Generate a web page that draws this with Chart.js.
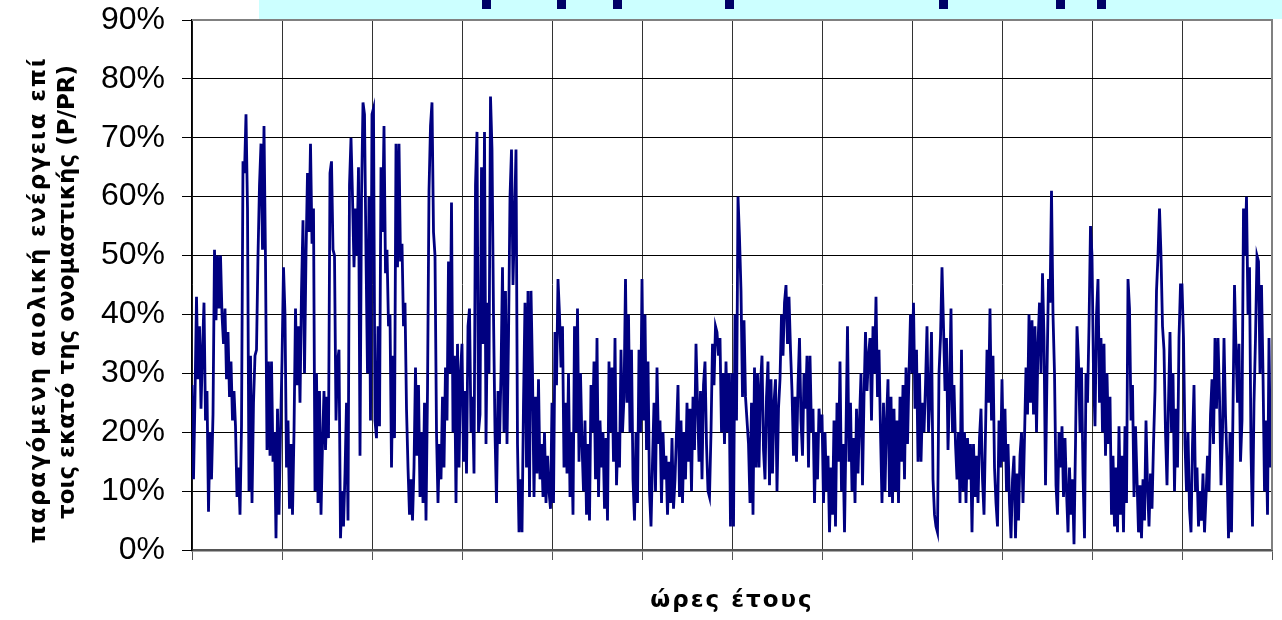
<!DOCTYPE html>
<html>
<head>
<meta charset="utf-8">
<title>P/PR ανά ώρα του έτους</title>
<style>
  html, body { margin: 0; padding: 0; background: #ffffff; }
  #wrap { position: relative; width: 1282px; height: 620px; }
</style>
</head>
<body>
<div id="wrap"><canvas id="windChart"></canvas></div>
<script src="https://cdn.jsdelivr.net/npm/chart.js@4.4.1/dist/chart.umd.min.js"></script>
<script>
// Παραγόμενη αιολική ενέργεια (% της ονομαστικής), ~2 τιμές την ημέρα, ανά μήνα
var jan = [28,12,26,43,29,38,24,34,42,22, 27,6.5,20,12,23,51,39,50,41,50, 40,35,41,29,37,26,32,22,27,21, 9,14,6,21,66,64,74,58,10,33, 8,25,33,34,50,62,69,51,72,49, 17,32,16,32,15,20,2,24,6,20];
var feb = [32,48,40,14,22,7,18,6,20,41, 28,38,25,44,56,30,50,64,54,69, 52,58,10,30,8,27,6,18,27,17, 26,19,64,66,51,50,22,32,34,2, 10,4,13,25,5,62,70,60,48,58, 50,65,16,60,76,74,50,30,60,22];
var mar = [74,75,22,19,38,21,65,54,72,47, 51,38,40,14,33,19,69,48,69,49, 52,38,42,24,14,6,12,5,14,31, 16,28,9,20,8,25,5,27,61,72, 76,54,50,20,8,18,12,26,14,31, 22,49,30,59,20,33,8,35,14,30];
var apr = [35,15,27,13,38,41,20,26,13,62, 71,20,23,65,35,71,18,42,30,77, 68,40,20,8,27,18,30,48,20,44, 18,36,60,68,45,56,68,18,3,12, 3,25,42,14,44,9,44,30,9,26, 13,29,12,18,9,20,8,16,10,7];
var may = [25,8,37,28,46,40,31,38,14,25, 13,30,9,20,6,38,20,41,15,30, 18,10,22,6,18,5,28,20,32,12, 36,9,22,14,20,7,19,5,32,20, 31,15,36,11,20,14,34,20,26,46, 25,40,20,34,12,5,20,8,34,20];
var jun = [46,22,40,17,32,10,4,15,25,10, 31,18,22,8,20,12,16,6,15,8, 19,7,12,20,28,9,22,8,20,12, 25,15,24,10,26,17,35,25,15,27, 12,28,32,18,10,9,20,35,28,38, 37,33,36,20,30,18,32,20,30,4];
var jul = [30,4,40,22,60,53,44,26,39,26, 22,18,8,25,6,31,14,30,14,28, 33,17,12,26,32,11,29,13,25,29, 10,24,29,40,33,42,45,35,43,34, 27,16,26,15,28,36,22,16,30,24, 33,14,33,20,24,8,20,12,24,20];
var aug = [23,8,20,10,16,3,14,6,22,4, 25,15,32,10,18,3,20,38,15,25, 10,19,8,24,13,22,30,11,26,37, 27,33,36,22,38,30,43,26,34,20, 8,25,10,22,29,9,26,8,24,10, 22,8,26,15,28,12,31,18,30,40];
var sep = [30,42,24,34,15,30,15,25,20,28, 38,20,26,37,12,6,4,3,30,36, 48,38,27,36,17,27,41,20,28,18, 12,20,8,34,10,20,8,19,12,18, 3,18,9,16,8,19,24,12,6,20, 34,25,41,22,33,14,8,4,22,14];
var oct = [29,15,24,10,18,8,2,12,16,2, 13,5,16,20,8,19,31,23,40,25, 39,23,38,20,35,42,30,47,36,11, 30,46,42,61,40,30,11,6,20,14, 21,9,19,10,3,14,6,12,1,18, 38,32,20,31,13,2,30,25,38,55];
var nov = [50,30,21,40,46,25,36,20,35,16, 30,18,26,6,16,4,14,3,21,6, 16,3,21,8,46,41,22,28,9,21, 12,3,11,2,12,5,22,11,4,13, 7,18,27,44,50,58,50,38,34,20, 11,25,37,20,30,10,24,14,36,45];
var dec = [45,36,18,10,20,7,3,18,28,10, 14,4,10,5,13,3,9,16,10,23, 29,18,36,24,36,26,11,20,36,23, 15,2,20,3,24,45,34,25,35,15, 22,58,50,60,40,48,17,4,25,36, 50,49,30,45,30,10,22,6,36,14];

var months = [jan, feb, mar, apr, may, jun, jul, aug, sep, oct, nov, dec];
var hoursPerMonth = 730;     // 8760 / 12
var hoursPerYear = 8760;
var yTickValues = [0, 10, 20, 30, 40, 50, 60, 70, 80, 90];

var xTitle = 'ώρες έτους';
var yTitleLines = ['παραγόμενη αιολική ενέργεια επί', 'τοις εκατό της ονομαστικής (P/PR)'];

// σημεία (ώρα, %) για τη γραμμή
var points = [];
months.forEach(function (vals, m) {
  vals.forEach(function (v, i) {
    points.push({ x: m * hoursPerMonth + i * hoursPerMonth / vals.length, y: v });
  });
});

// γαλάζιο πλαίσιο επάνω (κομμένο)
var headerBox = {
  id: 'headerBox',
  beforeDraw: function (chart) {
    var ctx = chart.ctx;
    ctx.save();
    ctx.fillStyle = '#ccffff';
    ctx.fillRect(259, 0, chart.width - 259, 19);
    ctx.fillStyle = '#000066';
    [482, 557, 613, 725, 939, 1056, 1097].forEach(function (x) {
      ctx.fillRect(x, 0, 9, 9);
    });
    ctx.restore();
  }
};

// γκρι περίγραμμα επάνω και δεξιά
var plotFrame = {
  id: 'plotFrame',
  afterDatasetsDraw: function (chart) {
    var a = chart.chartArea, ctx = chart.ctx;
    ctx.save();
    ctx.strokeStyle = '#808080';
    ctx.lineWidth = 2;
    ctx.beginPath();
    ctx.moveTo(a.left, a.top);
    ctx.lineTo(a.right, a.top);
    ctx.lineTo(a.right, a.bottom);
    ctx.stroke();
    ctx.restore();
  }
};

// τίτλοι αξόνων (έντονα, λίγο αραιωμένα γράμματα)
var axisTitles = {
  id: 'axisTitles',
  afterDraw: function (chart) {
    var ctx = chart.ctx, a = chart.chartArea;
    ctx.save();
    ctx.fillStyle = '#000000';
    ctx.font = 'bold 23px "DejaVu Sans"';
    ctx.textAlign = 'center';
    ctx.textBaseline = 'middle';

    ctx.letterSpacing = '2px';
    ctx.fillText(xTitle, (a.left + a.right) / 2, 601);

    ctx.translate(0, (a.top + a.bottom) / 2);
    ctx.rotate(-Math.PI / 2);
    ctx.letterSpacing = '1.8px';
    ctx.fillText(yTitleLines[0], -15, 39);
    ctx.letterSpacing = '0px';
    ctx.fillText(yTitleLines[1], -7, 68);
    ctx.restore();
  }
};

var ctx = document.getElementById('windChart').getContext('2d');
var windChart = new Chart(ctx, {
  type: 'line',
  data: {
    datasets: [{
      label: 'P/PR',
      data: points,
      borderColor: '#000080',
      borderWidth: 2.8,
      pointRadius: 0,
      tension: 0,
      fill: false
    }]
  },
  options: {
    responsive: true,
    maintainAspectRatio: false,
    animation: false,
    layout: { padding: { top: 20, right: 10, left: 0, bottom: 0 } },
    plugins: {
      legend: { display: false },
      tooltip: { enabled: false }
    },
    scales: {
      x: {
        type: 'linear',
        min: 0,
        max: hoursPerYear,
        ticks: { stepSize: hoursPerMonth, display: false },
        grid: { color: '#333333', lineWidth: 1, tickLength: 10, tickColor: '#555555' },
        border: { color: '#555555', width: 2.5 },
        afterFit: function (scale) { scale.height = 70; }
      },
      y: {
        min: 0,
        max: 90,
        afterBuildTicks: function (scale) {
          scale.ticks = yTickValues.map(function (v) { return { value: v }; });
        },
        ticks: {
          color: '#000000',
          padding: 17,
          font: { family: 'Liberation Sans', size: 32 },
          callback: function (v) { return v + '%'; }
        },
        grid: { color: '#000000', lineWidth: 1, tickLength: 10, tickColor: '#000000' },
        border: { color: '#000000', width: 1.5 },
        afterFit: function (scale) {
          scale.width = 192;
          scale.paddingTop = 0;     // η ετικέτα 90% μπορεί να βγει πάνω από την περιοχή
          scale.paddingBottom = 0;
        }
      }
    }
  },
  plugins: [headerBox, plotFrame, axisTitles]
});
</script>
</body>
</html>
